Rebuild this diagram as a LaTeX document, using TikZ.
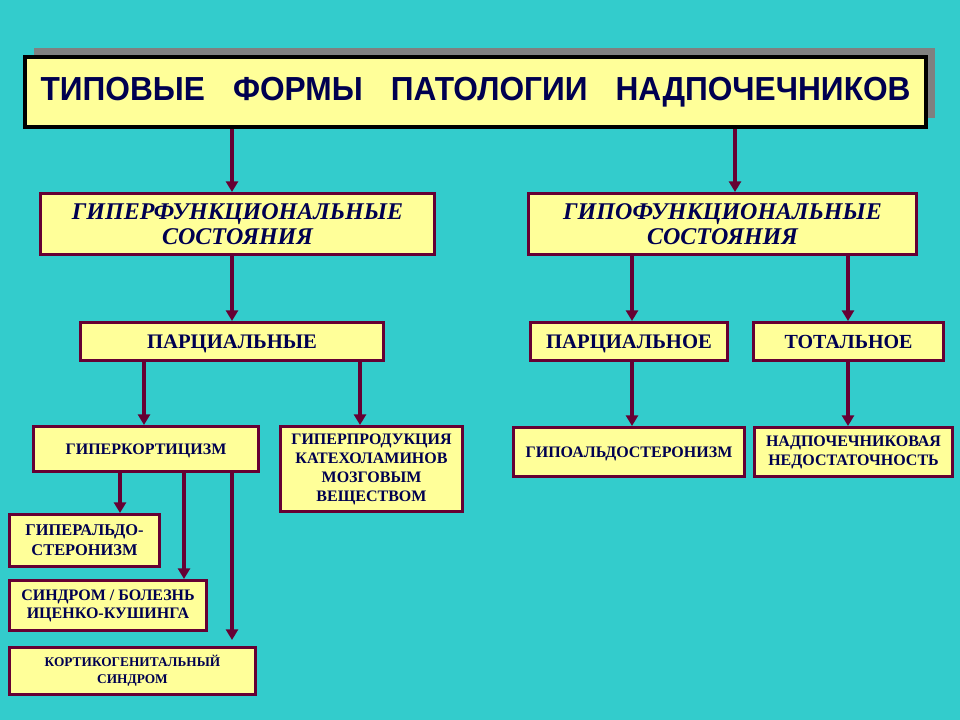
\documentclass[tikz,border=0pt]{standalone}
\usepackage{fontspec}
\setmainfont{Liberation Serif}
\newfontfamily\titlefont{Liberation Sans}[FakeStretch=0.95]
\usetikzlibrary{arrows.meta,shadows,positioning}
\definecolor{sea}{HTML}{33CCCC}
\definecolor{cream}{HTML}{FFFF99}
\definecolor{wine}{HTML}{660033}
\definecolor{ink}{HTML}{000050}
\tikzstyle{titlebox} = [rectangle, draw=black, line width=3pt, fill=cream,
                        text=ink, inner sep=0pt,
                        font=\titlefont\bfseries\fontsize{25}{30}\selectfont,
                        drop shadow={shadow xshift=6.5pt, shadow yshift=6.5pt,
                        fill=black!50, opacity=1}]
\tikzstyle{box}  = [rectangle, draw=wine, line width=2.25pt, fill=cream,
                    text=ink, align=center, inner sep=0pt]
\tikzstyle{oneline} = [text height=8.5pt, text depth=0pt]
\tikzstyle{ptr}  = [draw=wine, line width=2.4pt,
                    -{Triangle[width=9pt,length=8pt]}]
\newcommand{\caps}[2]{\fontsize{#1}{#2}\selectfont\bfseries}
\newcommand{\gap}{\hspace{21pt}}

\begin{document}
\begin{tikzpicture}[x=0.75pt, y=-0.75pt]
		\fill[sea] (0,0) rectangle (960,720);
		\useasboundingbox (0,0) rectangle (960,720);

		% top
		\node[titlebox, minimum width=675.75pt, minimum height=52.5pt] (title) at (475.5,92)
			{ТИПОВЫЕ\gap ФОРМЫ\gap ПАТОЛОГИИ\gap НАДПОЧЕЧНИКОВ};

		% second level
		\node[box, minimum width=295.5pt, minimum height=45.75pt, font=\caps{18}{19}\itshape] (hyper) at (237.5,224)
			{ГИПЕРФУНКЦИОНАЛЬНЫЕ\\СОСТОЯНИЯ};
		\node[box, minimum width=291pt, minimum height=45.75pt, font=\caps{18}{19}\itshape] (hypo) at (722.5,224)
			{ГИПОФУНКЦИОНАЛЬНЫЕ\\СОСТОЯНИЯ};

		% third level
		\node[box, oneline, text height=10.5pt, minimum width=227.25pt, minimum height=28.5pt, font=\caps{15.5}{17}] (hyperpart) at (232,341.5) {ПАРЦИАЛЬНЫЕ};
		\node[box, oneline, text height=10.5pt, minimum width=147.75pt, minimum height=28.5pt, font=\caps{15.5}{17}] (hypopart) at (629,341.5) {ПАРЦИАЛЬНОЕ};
		\node[box, oneline, text height=10.5pt, minimum width=142.5pt, minimum height=28.5pt, font=\caps{15}{17}] (total) at (848.5,341.5) {ТОТАЛЬНОЕ};

		% fourth level
		\node[box, oneline, minimum width=168.75pt, minimum height=33.75pt, font=\caps{12}{14}] (cortic) at (146,449) {ГИПЕРКОРТИЦИЗМ};
		\node[box, minimum width=136.5pt, minimum height=63.75pt, font=\caps{12}{14.25}] (catechol) at (371.5,469)
			{ГИПЕРПРОДУКЦИЯ\\КАТЕХОЛАМИНОВ\\МОЗГОВЫМ\\ВЕЩЕСТВОМ};
		\node[box, oneline, minimum width=173.25pt, minimum height=36.75pt, font=\caps{12}{14}] (hypoald) at (629,452) {ГИПОАЛЬДОСТЕРОНИЗМ};
		\node[box, minimum width=148.5pt, minimum height=36.75pt, font=\caps{12}{14.25}] (insuff) at (853.5,452)
			{НАДПОЧЕЧНИКОВАЯ\\НЕДОСТАТОЧНОСТЬ};

		% fifth level
		\node[box, minimum width=112.5pt, minimum height=39pt, font=\caps{12.3}{15}] (hyperald) at (84.5,540.5)
			{ГИПЕРАЛЬДО-\\СТЕРОНИЗМ};
		\node[box, minimum width=147.75pt, minimum height=37.5pt, font=\caps{12}{13.5}] (cushing) at (108,605.5)
			{СИНДРОМ / БОЛЕЗНЬ\\ИЦЕНКО-КУШИНГА};
		\node[box, minimum width=184.5pt, minimum height=35.25pt, font=\caps{10}{12.5}] (genital) at (132.5,671)
			{КОРТИКОГЕНИТАЛЬНЫЙ\\СИНДРОМ};

		\draw[ptr] (title.south -| 232,0) -- (hyper.north -| 232,0);
		\draw[ptr] (title.south -| 735,0) -- (hypo.north -| 735,0);
		\draw[ptr] (hyper.south -| 232,0) -- (hyperpart.north -| 232,0);
		\draw[ptr] (hypo.south -| 632,0) -- (hypopart.north -| 632,0);
		\draw[ptr] (hypo.south -| 848,0) -- (total.north -| 848,0);
		\draw[ptr] (hyperpart.south -| 144,0) -- (cortic.north -| 144,0);
		\draw[ptr] (hyperpart.south -| 360,0) -- (catechol.north -| 360,0);
		\draw[ptr] (hypopart.south -| 632,0) -- (hypoald.north -| 632,0);
		\draw[ptr] (total.south -| 848,0) -- (insuff.north -| 848,0);
		\draw[ptr] (cortic.south -| 120,0) -- (hyperald.north -| 120,0);
		\draw[ptr] (cortic.south -| 184,0) -- (cushing.north -| 184,0);
		\draw[ptr, shorten >=4.5pt] (cortic.south -| 232,0) -- (genital.north -| 232,0);
	\end{tikzpicture}
\end{document}
